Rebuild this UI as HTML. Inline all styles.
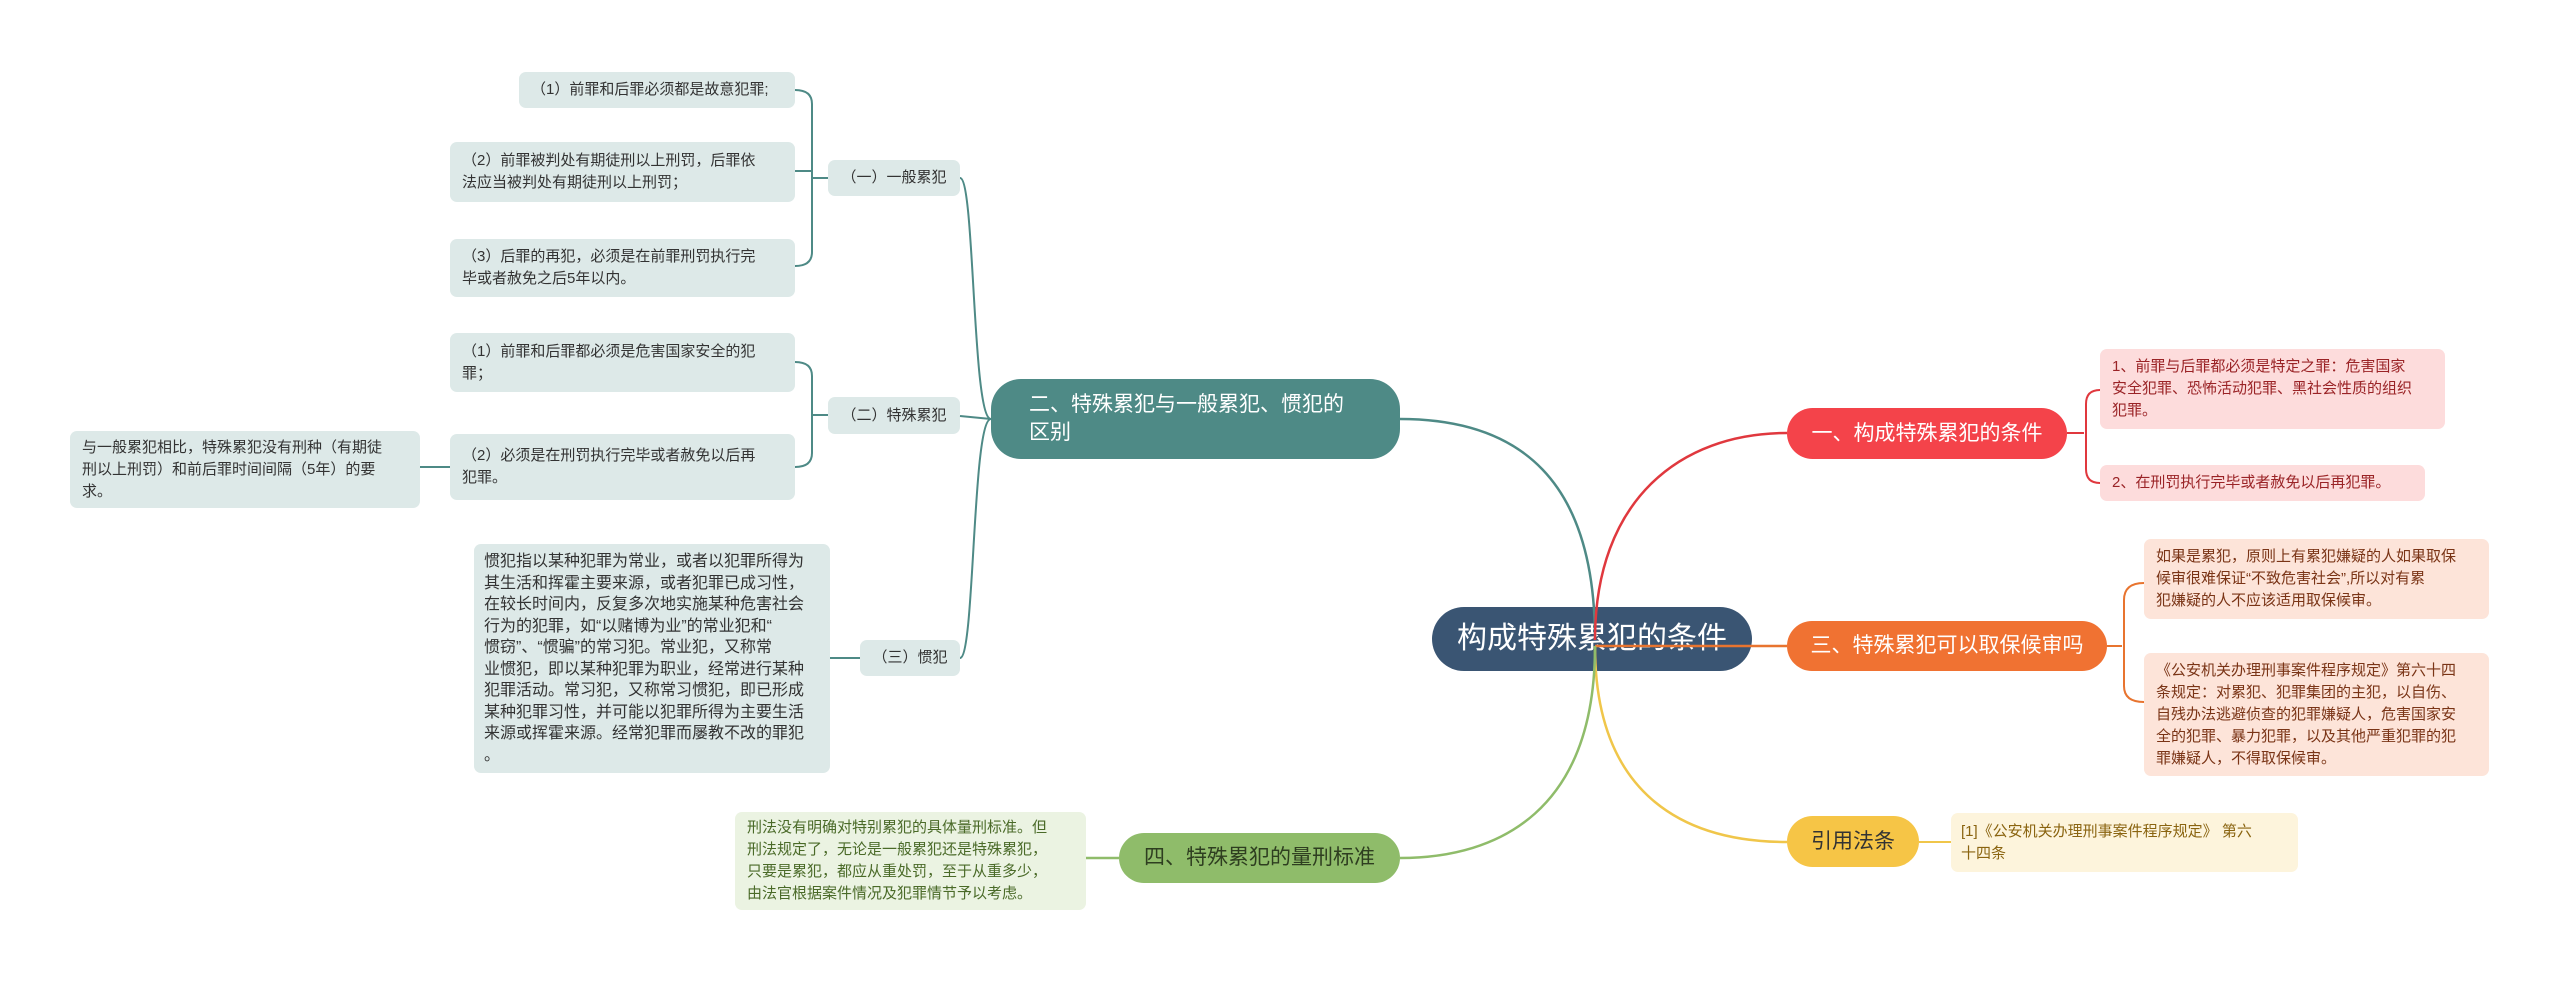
<!DOCTYPE html>
<html><head><meta charset="utf-8">
<style>
html,body{margin:0;padding:0;background:#fff;}
body{width:2560px;height:982px;position:relative;overflow:hidden;font-family:"Liberation Sans","Noto Sans CJK SC",sans-serif;}
.n{position:absolute;box-sizing:border-box;display:flex;align-items:center;white-space:nowrap;}
.t{background:#dde9e8;color:#333;border-radius:7px;font-size:15px;line-height:22px;padding:0 12px;}
.r{background:#fddcdc;color:#9a2326;border-radius:7px;font-size:15px;line-height:22px;padding:0 12px;}
.o{background:#fde4d9;color:#7a3416;border-radius:7px;font-size:15px;line-height:22px;padding:0 12px;}
.y{background:#fdf4dc;color:#8a6410;border-radius:7px;font-size:15px;line-height:22px;padding:0 10px;}
.g{background:#ebf3e2;color:#4a6a28;border-radius:7px;font-size:15px;line-height:22px;padding:0 12px;}
.b{border-radius:26px;font-size:21px;justify-content:center;line-height:28px;}
svg{position:absolute;left:0;top:0;}
</style></head><body>

<div class="n b" style="left:1432px;top:607px;width:320px;height:64px;background:#3a5573;color:#fff;font-size:30px;border-radius:32px;">构成特殊累犯的条件</div>

<div class="n b" style="left:1787px;top:408px;width:280px;height:51px;background:#f4434a;color:#fff;">一、构成特殊累犯的条件</div>
<div class="n b" style="left:1787px;top:621px;width:320px;height:50px;background:#f07232;color:#fff;">三、特殊累犯可以取保候审吗</div>
<div class="n b" style="left:1787px;top:816px;width:132px;height:51px;background:#f6c546;color:#333;">引用法条</div>
<div class="n b" style="left:1119px;top:833px;width:281px;height:50px;background:#8fbc6a;color:#2e3e20;">四、特殊累犯的量刑标准</div>
<div class="n b" style="left:991px;top:379px;width:409px;height:80px;background:#4e8a86;color:#fff;justify-content:flex-start;padding-left:38px;border-radius:30px;">二、特殊累犯与一般累犯、惯犯的<br>区别</div>

<div class="n r" style="left:2100px;top:349px;width:345px;height:80px;">1、前罪与后罪都必须是特定之罪：危害国家<br>安全犯罪、恐怖活动犯罪、黑社会性质的组织<br>犯罪。</div>
<div class="n r" style="left:2100px;top:465px;width:325px;height:36px;">2、在刑罚执行完毕或者赦免以后再犯罪。</div>

<div class="n o" style="left:2144px;top:539px;width:345px;height:80px;">如果是累犯，原则上有累犯嫌疑的人如果取保<br>候审很难保证“不致危害社会”,所以对有累<br>犯嫌疑的人不应该适用取保候审。</div>
<div class="n o" style="left:2144px;top:653px;width:345px;height:123px;">《公安机关办理刑事案件程序规定》第六十四<br>条规定：对累犯、犯罪集团的主犯，以自伤、<br>自残办法逃避侦查的犯罪嫌疑人，危害国家安<br>全的犯罪、暴力犯罪，以及其他严重犯罪的犯<br>罪嫌疑人，不得取保候审。</div>

<div class="n y" style="left:1951px;top:813px;width:347px;height:59px;">[1]《公安机关办理刑事案件程序规定》 第六<br>十四条</div>

<div class="n g" style="left:735px;top:812px;width:351px;height:98px;">刑法没有明确对特别累犯的具体量刑标准。但<br>刑法规定了，无论是一般累犯还是特殊累犯，<br>只要是累犯，都应从重处罚，至于从重多少，<br>由法官根据案件情况及犯罪情节予以考虑。</div>

<div class="n t" style="left:828px;top:160px;width:132px;height:36px;justify-content:center;">（一）一般累犯</div>
<div class="n t" style="left:828px;top:397px;width:132px;height:37px;justify-content:center;">（二）特殊累犯</div>
<div class="n t" style="left:860px;top:640px;width:100px;height:36px;justify-content:center;">（三）惯犯</div>

<div class="n t" style="left:519px;top:72px;width:276px;height:36px;">（1）前罪和后罪必须都是故意犯罪;</div>
<div class="n t" style="left:450px;top:142px;width:345px;height:60px;">（2）前罪被判处有期徒刑以上刑罚，后罪依<br>法应当被判处有期徒刑以上刑罚；</div>
<div class="n t" style="left:450px;top:239px;width:345px;height:58px;">（3）后罪的再犯，必须是在前罪刑罚执行完<br>毕或者赦免之后5年以内。</div>
<div class="n t" style="left:450px;top:333px;width:345px;height:59px;">（1）前罪和后罪都必须是危害国家安全的犯<br>罪；</div>
<div class="n t" style="left:450px;top:434px;width:345px;height:66px;">（2）必须是在刑罚执行完毕或者赦免以后再<br>犯罪。</div>
<div class="n t" style="left:70px;top:431px;width:350px;height:77px;">与一般累犯相比，特殊累犯没有刑种（有期徒<br>刑以上刑罚）和前后罪时间间隔（5年）的要<br>求。</div>
<div class="n t" style="left:474px;top:544px;width:356px;height:229px;font-size:16px;line-height:21.5px;padding:0 10px;">惯犯指以某种犯罪为常业，或者以犯罪所得为<br>其生活和挥霍主要来源，或者犯罪已成习性，<br>在较长时间内，反复多次地实施某种危害社会<br>行为的犯罪，如“以赌博为业”的常业犯和“<br>惯窃”、“惯骗”的常习犯。常业犯，又称常<br>业惯犯，即以某种犯罪为职业，经常进行某种<br>犯罪活动。常习犯，又称常习惯犯，即已形成<br>某种犯罪习性，并可能以犯罪所得为主要生活<br>来源或挥霍来源。经常犯罪而屡教不改的罪犯<br>。</div>

<svg width="2560" height="982" fill="none" stroke-width="2.5">
<path d="M1595,640 C1595,480 1520,419 1400,419" stroke="#4e8a86"/>
<path d="M1595,640 C1595,500 1680,433 1787,433" stroke="#e0383e"/>
<path d="M1595,646 L1787,646" stroke="#e8742f"/>
<path d="M1595,646 C1595,800 1690,842 1787,842" stroke="#f0c64a"/>
<path d="M1595,646 C1595,810 1500,858 1400,858" stroke="#8fbc6a"/>
<g stroke="#4e8a86" stroke-width="2">
<path d="M991,419 C972,419 975,178 960,178"/>
<path d="M991,419 L960,416"/>
<path d="M991,419 C972,419 975,658 960,658"/>
<path d="M828,178 L812,178 M795,90 Q812,90 812,104 L812,252 Q812,266 795,266 M795,171 L812,171"/>
<path d="M828,415 L812,415 M795,362 Q812,362 812,376 L812,453 Q812,467 795,467"/>
<path d="M860,658 L830,658"/>
<path d="M450,467 L420,467"/>
</g>
<path d="M2067,433 L2084,433 M2100,390 Q2086,390 2086,404 L2086,469 Q2086,483 2100,483" stroke="#e0383e" stroke-width="2"/>
<path d="M2107,646 L2122,646 M2144,583 Q2124,583 2124,600 L2124,686 Q2124,702 2144,702" stroke="#e8742f" stroke-width="2"/>
<path d="M1919,842 L1951,842" stroke="#f0c64a" stroke-width="2"/>
<path d="M1119,858 L1086,858" stroke="#8fbc6a" stroke-width="2.5"/>
</svg>
</body></html>
